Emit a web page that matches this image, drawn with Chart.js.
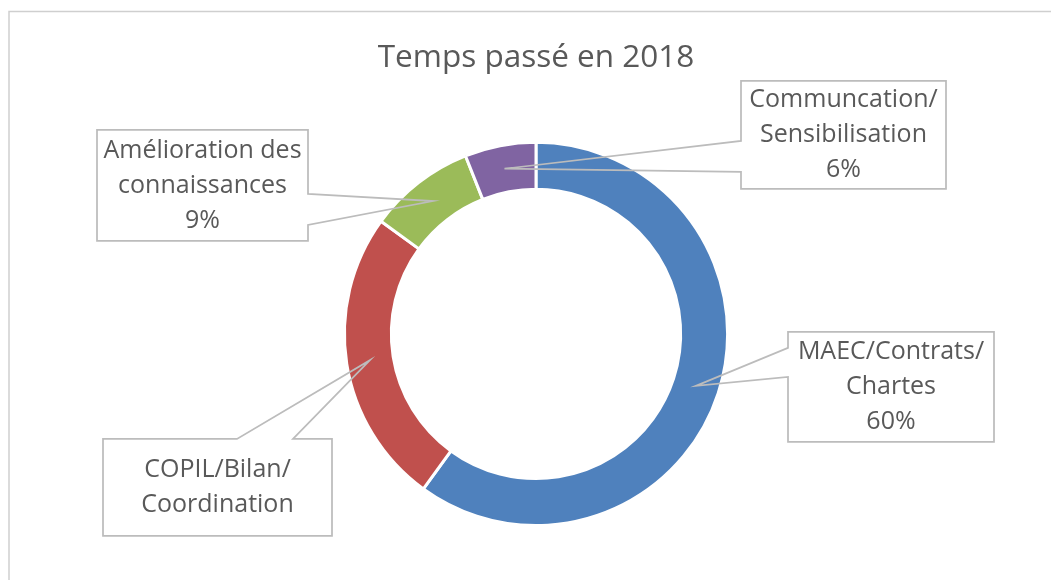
<!DOCTYPE html>
<html>
<head>
<meta charset="utf-8">
<script src="https://cdn.jsdelivr.net/npm/chart.js@4/dist/chart.umd.min.js"></script>
<style>
  html, body { margin: 0; padding: 0; background: #ffffff; }
  #wrap { width: 1051px; height: 580px; position: relative; }
</style>
</head>
<body>
<div id="wrap"><canvas id="c" width="1051" height="580"></canvas></div>
<script>
// ---- DATA ----
const chartTitle = 'Temps passé en 2018';
const categoryLines = [
  ['MAEC/Contrats/', 'Chartes'],
  ['COPIL/Bilan/', 'Coordination'],
  ['Amélioration des', 'connaissances'],
  ['Communcation/', 'Sensibilisation']
];
const values = [60, 25, 9, 6];
const showPercent = [true, false, true, true];
const sliceColors = ['#4f81bd', '#c0504d', '#9bbb59', '#8064a2'];

// ---- LAYOUT (callout boxes relative to doughnut centre) ----
// side: which edge of the box the pointer leaves from; g0/g1: gap along that edge
const boxLayout = [
  { dx: 252,  dy: -2,   w: 206, h: 110, side: 'left',  g0: 16, g1: 45 },
  { dx: -433, dy: 105,  w: 229, h: 97,  side: 'top',   g0: 134, g1: 190 },
  { dx: -439, dy: -204, w: 211, h: 111, side: 'right', g0: 64, g1: 95 },
  { dx: 205,  dy: -253, w: 205, h: 108, side: 'left',  g0: 60, g1: 91 }
];
const FONT = '"Open Sans", "Liberation Sans", sans-serif';
const TEXT_COLOR = '#595959';
const BOX_STROKE = '#bcbcbc';

const total = values.reduce((a, b) => a + b, 0);

const framePlugin = {
  id: 'frame',
  beforeDraw(chart) {
    const ctx = chart.ctx;
    ctx.save();
    ctx.strokeStyle = '#cfcfcf';
    ctx.lineWidth = 1.5;
    ctx.beginPath();
    ctx.moveTo(9, 600);
    ctx.lineTo(9, 11.5);
    ctx.lineTo(1060, 11.5);
    ctx.stroke();
    ctx.restore();
  }
};

const calloutPlugin = {
  id: 'callouts',
  afterDatasetsDraw(chart) {
    const ctx = chart.ctx;
    const meta = chart.getDatasetMeta(0);
    meta.data.forEach((arc, i) => {
      const L = boxLayout[i];
      const p = arc.getCenterPoint();
      const x0 = arc.x + L.dx, y0 = arc.y + L.dy;
      const x1 = x0 + L.w, y1 = y0 + L.h;
      ctx.save();
      ctx.fillStyle = '#ffffff';
      ctx.fillRect(x0, y0, L.w, L.h);
      ctx.beginPath();
      if (L.side === 'left') {
        ctx.moveTo(x0, y0 + L.g0);
        ctx.lineTo(x0, y0); ctx.lineTo(x1, y0); ctx.lineTo(x1, y1); ctx.lineTo(x0, y1);
        ctx.lineTo(x0, y0 + L.g1);
        ctx.lineTo(p.x, p.y);
        ctx.closePath();
      } else if (L.side === 'right') {
        ctx.moveTo(x1, y0 + L.g1);
        ctx.lineTo(x1, y1); ctx.lineTo(x0, y1); ctx.lineTo(x0, y0); ctx.lineTo(x1, y0);
        ctx.lineTo(x1, y0 + L.g0);
        ctx.lineTo(p.x, p.y);
        ctx.closePath();
      } else if (L.side === 'top') {
        ctx.moveTo(x0 + L.g0, y0);
        ctx.lineTo(x0, y0); ctx.lineTo(x0, y1); ctx.lineTo(x1, y1); ctx.lineTo(x1, y0);
        ctx.lineTo(x0 + L.g1, y0);
        ctx.lineTo(p.x, p.y);
        ctx.closePath();
      }
      ctx.strokeStyle = BOX_STROKE;
      ctx.lineWidth = 1.75;
      ctx.lineJoin = 'miter';
      ctx.stroke();
      const lines = categoryLines[i].slice();
      if (showPercent[i]) lines.push(Math.round(values[i] / total * 100) + '%');
      ctx.fillStyle = TEXT_COLOR;
      ctx.font = '25px ' + FONT;
      ctx.textAlign = 'center';
      ctx.textBaseline = 'middle';
      const lh = 35;
      const cx = (x0 + x1) / 2, cy = (y0 + y1) / 2;
      lines.forEach((t, k) => {
        ctx.fillText(t, cx, cy + (k - (lines.length - 1) / 2) * lh);
      });
      ctx.restore();
    });
  }
};

new Chart(document.getElementById('c'), {
  type: 'doughnut',
  data: {
    labels: categoryLines.map(l => l.join(' ')),
    datasets: [{
      data: values,
      backgroundColor: sliceColors,
      borderColor: '#ffffff',
      borderWidth: 3,
      hoverBorderWidth: 3
    }]
  },
  options: {
    responsive: false,
    animation: false,
    cutout: '75.5%',
    layout: { padding: { left: 21, right: 0, top: 0, bottom: 53 } },
    plugins: {
      legend: { display: false },
      tooltip: { enabled: false },
      title: {
        display: true,
        text: chartTitle,
        color: TEXT_COLOR,
        font: { family: FONT, size: 31.5, weight: 'normal', lineHeight: 1.2 },
        padding: { top: 39, bottom: 64 }
      }
    }
  },
  plugins: [framePlugin, calloutPlugin]
});
</script>
</body>
</html>
